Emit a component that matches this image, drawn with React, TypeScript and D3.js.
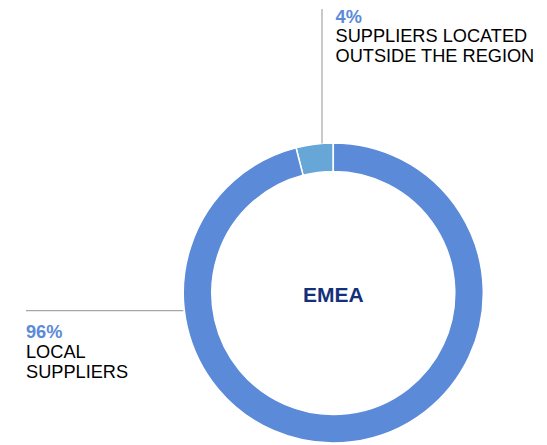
import React from "react";
import * as d3 from "d3";

const categories = ["SUPPLIERS LOCATED OUTSIDE THE REGION", "LOCAL SUPPLIERS"];
const values = [4, 96];
const colors = ["#67a7d7", "#5b8ad9"];
const centerLabel = "EMEA";

const W = 547;
const H = 445;
const cx = 333.3;
const cy = 293;
const outerR = 150;
const innerR = 121.5;

export default function App() {
  const pie = d3
    .pie<number>()
    .value((d) => d)
    .sort(null)
    .startAngle(-2 * Math.PI * (values[0] / 100))
    .endAngle(2 * Math.PI - 2 * Math.PI * (values[0] / 100));
  const arcs = pie(values);
  const arcGen = d3.arc<d3.PieArcDatum<number>>().innerRadius(innerR).outerRadius(outerR);

  const font = "'Liberation Sans', Arial, Helvetica, sans-serif";
  const lineX = 322;
  const lineTopY = cy - Math.sqrt(outerR * outerR - (cx - lineX) * (cx - lineX));

  return (
    <svg
      width={W}
      height={H}
      style={{ position: "absolute", left: 0, top: 0, background: "#fff" }}
    >
      <g transform={`translate(${cx},${cy})`}>
        {arcs.map((a, i) => (
          <path key={i} d={arcGen(a) || ""} fill={colors[i]} stroke="#fff" strokeWidth={1.5} />
        ))}
      </g>
      <line x1={lineX} x2={lineX} y1={9} y2={lineTopY} stroke="#a6a6a6" strokeWidth={1.2} />
      <line x1={26} x2={cx - outerR} y1={310.7} y2={310.7} stroke="#a6a6a6" strokeWidth={1.2} />

      <g fontFamily={font} fontSize={18.2}>
        <text x={335.5} y={23} fill={colors[1]} fontWeight="bold">{values[0]}%</text>
        <text x={335.5} y={42.3} fill="#000">SUPPLIERS LOCATED</text>
        <text x={335.5} y={62} fill="#000">OUTSIDE THE REGION</text>

        <text x={26} y={338.3} fill={colors[1]} fontWeight="bold">{values[1]}%</text>
        <text x={26} y={358.3} fill="#000">LOCAL</text>
        <text x={26} y={377.7} fill="#000">SUPPLIERS</text>
      </g>
      <text
        x={cx}
        y={301.7}
        textAnchor="middle"
        fontFamily={font}
        fontSize={21}
        fontWeight="bold"
        fill="#15307a"
      >
        {centerLabel}
      </text>
    </svg>
  );
}
